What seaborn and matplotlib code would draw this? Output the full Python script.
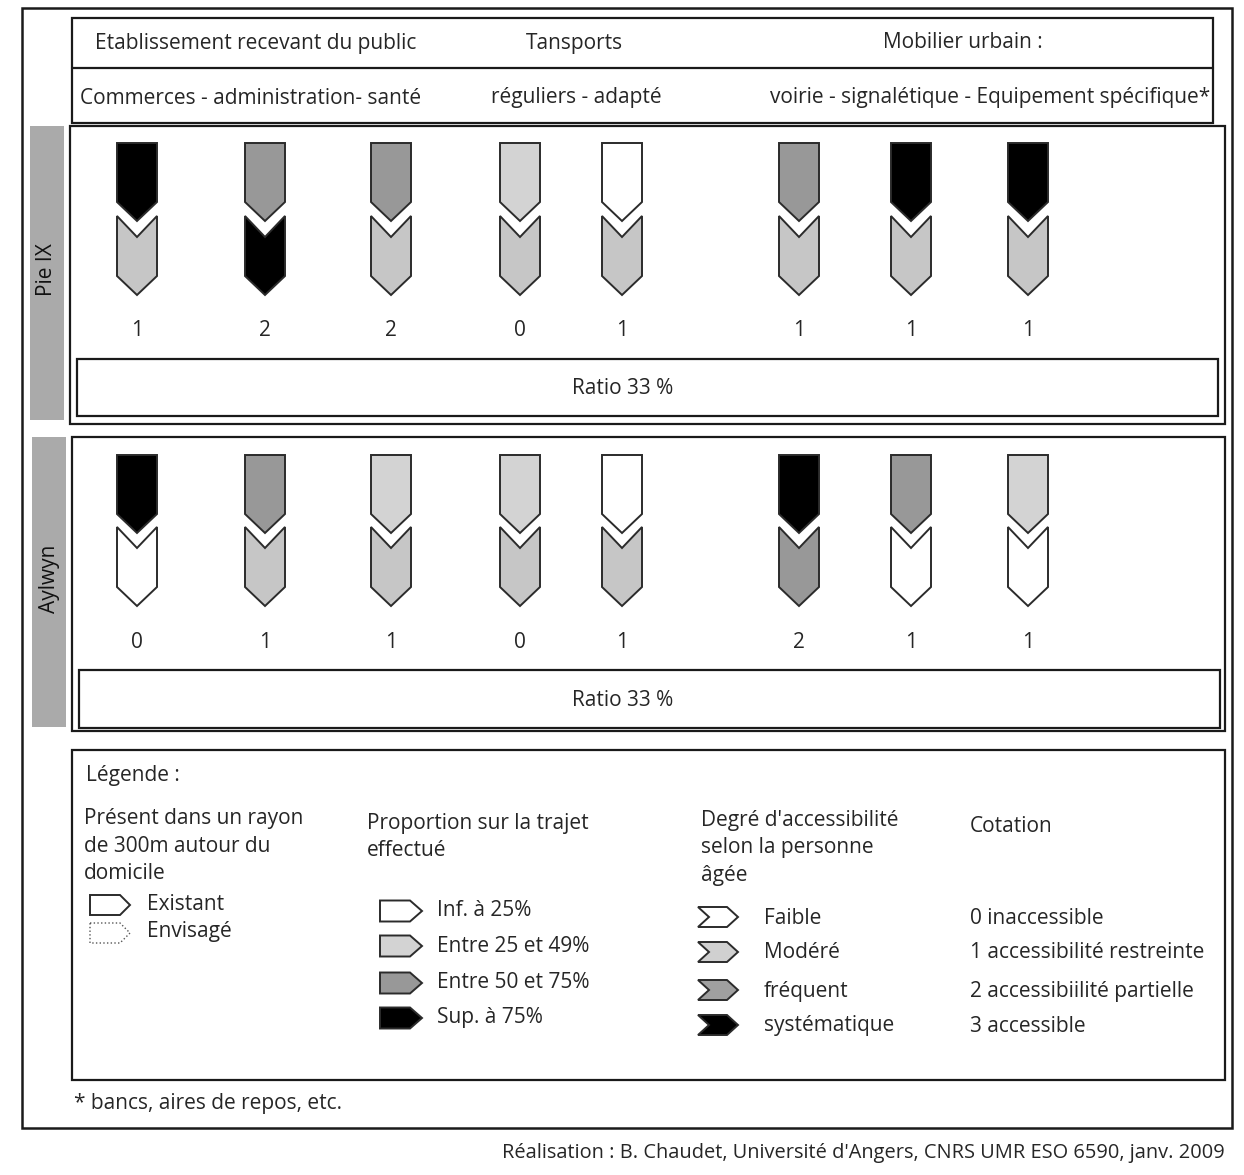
"""
Accessibilité des équipements autour du domicile - Pie IX / Aylwyn
Schéma à flèches : proportion sur le trajet (haut) et degré d'accessibilité (bas)
"""
import matplotlib.pyplot as plt
import seaborn as sns
from matplotlib.patches import Polygon, Rectangle

sns.set_theme(style="white")
plt.rcParams["font.family"] = ["Open Sans", "DejaVu Sans"]

# ---------------------------------------------------------
# 1. DATA
# ---------------------------------------------------------
sites = ["Pie IX", "Aylwyn"]
categories = ["Commerces", "administration", "santé", "réguliers", "adapté",
              "voirie", "signalétique", "Equipement spécifique"]

# niveau 0..3 (0 = inf. à 25 %, 3 = sup. à 75 %)
pie_proportion = [3, 2, 2, 1, 0, 2, 3, 3]
aylwyn_proportion = [3, 2, 1, 1, 0, 3, 2, 1]
# niveau 0..3 (0 = faible, 3 = systématique)
pie_access = [1, 3, 1, 1, 1, 1, 1, 1]
aylwyn_access = [0, 1, 1, 1, 1, 2, 0, 0]
# cotation 0..3
pie_cotation = [1, 2, 2, 0, 1, 1, 1, 1]
aylwyn_cotation = [0, 1, 1, 0, 1, 2, 1, 1]
ratios = [33, 33]

proportion_labels = ["Inf. à 25%", "Entre 25 et 49%", "Entre 50 et 75%", "Sup. à 75%"]
access_labels = ["Faible", "Modéré", "fréquent", "systématique"]
cotation_labels = ["0 inaccessible", "1 accessibilité restreinte",
                   "2 accessibiilité partielle", "3 accessible"]
presence_labels = ["Existant", "Envisagé"]

proportion_colors = ["#ffffff", "#d3d3d3", "#989898", "#000000"]
access_colors = ["#ffffff", "#c6c6c6", "#989898", "#000000"]
legend_access_colors = ["#ffffff", "#d0d0d0", "#a0a0a0", "#000000"]

# ---------------------------------------------------------
# 2. LAYOUT (pixel coordinates, y downwards)
# ---------------------------------------------------------
col_x = [137, 265, 391, 520, 622, 799, 911, 1028]
row_top = [143, 455]
chev_top = [216, 527]
num_y = [331, 642]
panel_y = [(126, 424), (437, 731)]
ratio_y = [(359, 416), (670, 728)]

EDGE = "#2b2b2b"
FS = 15
LS = 1.4

fig = plt.figure(figsize=(12.44, 11.75), dpi=100)
ax = fig.add_axes([0, 0, 1, 1])
ax.set_xlim(0, 1244)
ax.set_ylim(1175, 0)
ax.axis("off")


def box(x0, y0, x1, y1, lw=1.6, **kw):
    ax.add_patch(Rectangle((x0, y0), x1 - x0, y1 - y0, fill=False,
                           edgecolor="#1a1a1a", linewidth=lw, **kw))


def down_pentagon(cx, top, w=40):
    return [(cx - w / 2, top), (cx + w / 2, top), (cx + w / 2, top + 59),
            (cx, top + 78), (cx - w / 2, top + 59)]


def down_chevron(cx, top, w=40):
    return [(cx - w / 2, top), (cx, top + 21), (cx + w / 2, top),
            (cx + w / 2, top + 60), (cx, top + 79), (cx - w / 2, top + 60)]


def right_pentagon(x0, yc, w=42, h=21, tip=12):
    return [(x0, yc - h / 2), (x0 + w - tip, yc - h / 2), (x0 + w, yc),
            (x0 + w - tip, yc + h / 2), (x0, yc + h / 2)]


def right_chevron(x0, yc, w=40, h=20, d=11):
    return [(x0, yc - h / 2), (x0 + w - d, yc - h / 2), (x0 + w, yc),
            (x0 + w - d, yc + h / 2), (x0, yc + h / 2), (x0 + d, yc)]


def shape(pts, color, lw=1.4, ls="-", ec=EDGE):
    ax.add_patch(Polygon(pts, closed=True, facecolor=color, edgecolor=ec,
                         linewidth=lw, linestyle=ls, joinstyle="miter"))


# ---------------------------------------------------------
# 3. FRAMES + HEADER
# ---------------------------------------------------------
box(22, 8, 1232, 1128, lw=1.8)
box(72, 18, 1213, 123)
ax.plot([72, 1213], [68, 68], color="#1a1a1a", linewidth=1.6)

ax.text(256, 43, "Etablissement recevant du public", fontsize=FS, ha="center", va="center")
ax.text(574, 43, "Tansports", fontsize=FS, ha="center", va="center")
ax.text(963, 43, "Mobilier urbain :", fontsize=FS, ha="center", va="center")
ax.text(80, 98, "Commerces - administration- santé", fontsize=FS, ha="left", va="center")
ax.text(576, 98, "réguliers - adapté", fontsize=FS, ha="center", va="center")
ax.text(1210, 98, "voirie - signalétique - Equipement spécifique*", fontsize=FS,
        ha="right", va="center")

# ---------------------------------------------------------
# 4. SITE PANELS
# ---------------------------------------------------------
proportions = [pie_proportion, aylwyn_proportion]
accesses = [pie_access, aylwyn_access]
cotations = [pie_cotation, aylwyn_cotation]

for r, site in enumerate(sites):
    y0, y1 = panel_y[r]
    ax.add_patch(Rectangle((30 + r * 2, y0), 34, y1 - y0 - 4, facecolor="#aaaaaa",
                           edgecolor="none"))
    ax.text(47 + r * 2, (y0 + y1) / 2 - 5, site, fontsize=FS, rotation=90,
            ha="center", va="center", color="#111111")
    box(70 + r * 2, y0, 1225, y1)
    ry0, ry1 = ratio_y[r]
    box(77 + r * 2, ry0, 1218 + r * 2, ry1)
    ax.text(623, (ry0 + ry1) / 2 + 1, f"Ratio {ratios[r]} %", fontsize=FS,
            ha="center", va="center")

    for i, cx in enumerate(col_x):
        shape(down_chevron(cx, chev_top[r]), access_colors[accesses[r][i]])
        shape(down_pentagon(cx, row_top[r]), proportion_colors[proportions[r][i]])
        ax.text(cx, num_y[r], str(cotations[r][i]), fontsize=FS,
                ha="center", va="center")

# ---------------------------------------------------------
# 5. LEGEND
# ---------------------------------------------------------
box(72, 750, 1225, 1080)
ax.text(86, 776, "Légende :", fontsize=FS, ha="left", va="center")

ax.text(84, 846, "Présent dans un rayon\nde 300m autour du\ndomicile", fontsize=FS,
        ha="left", va="center", linespacing=LS)
shape(right_pentagon(90, 905, w=40, h=20, tip=10), "white", lw=1.4)
shape(right_pentagon(90, 933, w=40, h=20, tip=10), "white", lw=1.0, ls=":", ec="#555555")
ax.text(147, 904, presence_labels[0], fontsize=FS, ha="left", va="center")
ax.text(147, 932, presence_labels[1], fontsize=FS, ha="left", va="center")

ax.text(367, 837, "Proportion sur la trajet\neffectué", fontsize=FS,
        ha="left", va="center", linespacing=LS)
prop_y = [911, 946, 983, 1018]
for lab, col, yc in zip(proportion_labels, proportion_colors, prop_y):
    shape(right_pentagon(380, yc), col)
    ax.text(437, yc, lab, fontsize=FS, ha="left", va="center")

ax.text(701, 848, "Degré d'accessibilité\nselon la personne\nâgée", fontsize=FS,
        ha="left", va="center", linespacing=LS)
acc_y = [918, 953, 991, 1026]
for lab, col, yc in zip(access_labels, legend_access_colors, acc_y):
    shape(right_chevron(698, yc - 1), col)
    ax.text(764, yc, lab, fontsize=FS, ha="left", va="center")

ax.text(970, 826, "Cotation", fontsize=FS, ha="left", va="center")
for lab, yc in zip(cotation_labels, acc_y):
    ax.text(970, yc, lab, fontsize=FS, ha="left", va="center")

ax.text(74, 1104, "* bancs, aires de repos, etc.", fontsize=FS, ha="left", va="center")
ax.text(1225, 1153, "Réalisation : B. Chaudet, Université d'Angers, CNRS UMR ESO 6590, janv. 2009",
        fontsize=14.4, ha="right", va="center")

fig.savefig("out.png", dpi=100, facecolor="white")
plt.close(fig)
